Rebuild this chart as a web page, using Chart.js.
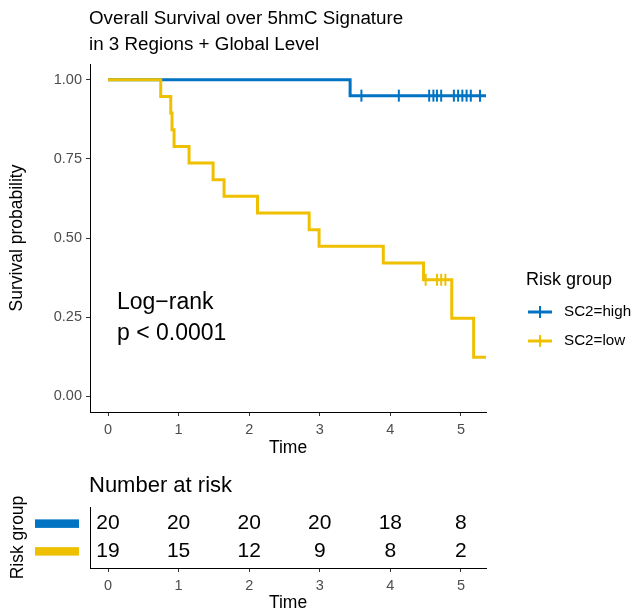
<!DOCTYPE html>
<html><head><meta charset="utf-8">
<script src="https://cdn.jsdelivr.net/npm/chart.js@4"></script>
<style>
html,body{margin:0;padding:0;background:#fff;}
#wrap{position:relative;width:632px;height:612px;background:#fff;}
.box{position:absolute;left:0;width:632px;}
</style></head><body>
<div id="wrap">
<div class="box" style="top:0;height:470px"><canvas id="c1" width="632" height="470"></canvas></div>
<div class="box" style="top:470px;height:142px"><canvas id="c2" width="632" height="142"></canvas></div>
</div>
<script>
// ---------------- data ----------------
const titleLines = ["Overall Survival over 5hmC Signature", "in 3 Regions + Global Level"];
const groups = ["SC2=high", "SC2=low"];
const colors = ["#0073C2", "#EFC000"];
const legendTitle = "Risk group";

const highTimes = [0, 3.43, 5.36];
const highSurv  = [1, 0.95, 0.95];
const highCensorTimes = [3.59, 4.12, 4.55, 4.61, 4.66, 4.72, 4.90, 4.96, 5.02, 5.08, 5.14, 5.27];
const highCensorSurv  = [0.95, 0.95, 0.95, 0.95, 0.95, 0.95, 0.95, 0.95, 0.95, 0.95, 0.95, 0.95];

const lowTimes = [0, 0.747, 0.889, 0.907, 0.936, 1.148, 1.489, 1.644, 2.118, 2.85, 2.99, 3.90, 4.47, 4.87, 5.18, 5.36];
const lowSurv  = [1, 0.947, 0.895, 0.842, 0.789, 0.737, 0.684, 0.632, 0.579, 0.526, 0.474, 0.421, 0.368, 0.246, 0.123, 0.123];
const lowCensorTimes = [4.50, 4.66, 4.72, 4.78];
const lowCensorSurv  = [0.368, 0.368, 0.368, 0.368];

const xTicks = [0, 1, 2, 3, 4, 5];
const yTicks = [0, 0.25, 0.5, 0.75, 1];
const yTickLabels = ["0.00", "0.25", "0.50", "0.75", "1.00"];
const pvalueText = ["Log\u2212rank", "p < 0.0001"];

const riskTitle = "Number at risk";
const riskTimes = [0, 1, 2, 3, 4, 5];
const riskHigh = [20, 20, 20, 20, 18, 8];
const riskLow  = [19, 15, 12, 9, 8, 2];

// ---------------- setup ----------------
const FONT = "'Liberation Sans', Arial, Helvetica, sans-serif";
const X_MIN = -0.255, X_MAX = 5.355;
const TICK_GRAY = '#4D4D4D';

function pts(xs, ys) { return xs.map((x, i) => ({ x: x, y: ys[i] })); }

const mainText = {
  id: 'mainText',
  afterDraw(chart) {
    const ctx = chart.ctx, ca = chart.chartArea;
    ctx.save();
    ctx.fillStyle = '#000';
    ctx.textBaseline = 'middle';
    ctx.textAlign = 'left';
    ctx.font = `18.8px ${FONT}`;
    ctx.fillText(titleLines[0], 89, 19);
    ctx.fillText(titleLines[1], 89, 45);

    ctx.font = `17.5px ${FONT}`;
    ctx.textAlign = 'center';
    ctx.fillText('Time', (ca.left + ca.right) / 2, 448);
    ctx.save();
    ctx.translate(17, (ca.top + ca.bottom) / 2);
    ctx.rotate(-Math.PI / 2);
    ctx.fillText('Survival probability', 0, 0);
    ctx.restore();

    ctx.textAlign = 'left';
    ctx.font = `23px ${FONT}`;
    ctx.fillText(pvalueText[0], 117, 303);
    ctx.fillText(pvalueText[1], 117, 334);

    // legend
    ctx.font = `18px ${FONT}`;
    ctx.fillText(legendTitle, 526, 280);
    const ly = [312, 341];
    ctx.font = `15.2px ${FONT}`;
    for (let i = 0; i < groups.length; i++) {
      ctx.strokeStyle = colors[i];
      ctx.lineWidth = 3;
      ctx.beginPath(); ctx.moveTo(528, ly[i]); ctx.lineTo(552, ly[i]); ctx.stroke();
      ctx.lineWidth = 2;
      ctx.beginPath(); ctx.moveTo(540, ly[i] - 6); ctx.lineTo(540, ly[i] + 6); ctx.stroke();
      ctx.fillStyle = '#000';
      ctx.fillText(groups[i], 564, ly[i]);
    }
    ctx.restore();
  }
};

new Chart(document.getElementById('c1'), {
  type: 'line',
  data: {
    datasets: [
      { type: 'scatter', data: pts(highCensorTimes, highCensorSurv), showLine: false,
        pointStyle: 'line', pointRotation: 90, pointRadius: 6, pointBorderWidth: 2,
        pointBorderColor: colors[0], pointBackgroundColor: colors[0], order: 0 },
      { type: 'scatter', data: pts(lowCensorTimes, lowCensorSurv), showLine: false,
        pointStyle: 'line', pointRotation: 90, pointRadius: 6, pointBorderWidth: 2,
        pointBorderColor: colors[1], pointBackgroundColor: colors[1], order: 1 },
      { label: groups[1], data: pts(lowTimes, lowSurv), borderColor: colors[1], borderWidth: 3,
        stepped: 'before', pointRadius: 0, fill: false, order: 2, clip: 0 },
      { label: groups[0], data: pts(highTimes, highSurv), borderColor: colors[0], borderWidth: 3,
        stepped: 'before', pointRadius: 0, fill: false, order: 3, clip: 0 }
    ]
  },
  options: {
    responsive: false, animation: false, devicePixelRatio: 1,
    layout: { padding: { left: 0, top: 64, right: 146, bottom: 8 } },
    plugins: { legend: { display: false }, tooltip: { enabled: false }, title: { display: false } },
    scales: {
      x: {
        type: 'linear', min: X_MIN, max: X_MAX,
        afterBuildTicks: s => { s.ticks = xTicks.map(v => ({ value: v })); },
        afterFit: s => { s.height = 50; },
        grid: { drawOnChartArea: false, drawTicks: true, tickLength: 4, color: '#333', lineWidth: 1 },
        border: { display: true, color: '#000', width: 1 },
        ticks: { font: { family: FONT, size: 14.5 }, color: TICK_GRAY, padding: 5, maxRotation: 0, autoSkip: false }
      },
      y: {
        type: 'linear', min: -0.05, max: 1.05,
        afterBuildTicks: s => { s.ticks = yTicks.map(v => ({ value: v })); },
        afterFit: s => { s.width = 90; },
        grid: { drawOnChartArea: false, drawTicks: true, tickLength: 4, color: '#333', lineWidth: 1 },
        border: { display: true, color: '#000', width: 1 },
        ticks: { font: { family: FONT, size: 14.5 }, color: TICK_GRAY, padding: 4,
          callback: v => yTickLabels[yTicks.indexOf(v)] }
      }
    }
  },
  plugins: [mainText]
});

const riskText = {
  id: 'riskText',
  afterDraw(chart) {
    const ctx = chart.ctx, ca = chart.chartArea;
    const xs = chart.scales.x, ys = chart.scales.y;
    ctx.save();
    ctx.fillStyle = '#000';
    ctx.textBaseline = 'middle';
    ctx.textAlign = 'left';
    ctx.font = `22px ${FONT}`;
    ctx.fillText(riskTitle, 89, 16);

    const rows = [riskHigh, riskLow];
    const rowVal = [2, 1];
    ctx.font = `21px ${FONT}`;
    ctx.textAlign = 'center';
    for (let r = 0; r < rows.length; r++) {
      const y = ys.getPixelForValue(rowVal[r]);
      ctx.fillStyle = colors[r];
      ctx.fillRect(35, y - 4.25, 44, 8.5);
      ctx.fillStyle = '#000';
      for (let i = 0; i < riskTimes.length; i++) {
        ctx.fillText(String(rows[r][i]), xs.getPixelForValue(riskTimes[i]), y);
      }
    }

    ctx.font = `17.5px ${FONT}`;
    ctx.fillText('Time', (ca.left + ca.right) / 2, 133);
    ctx.save();
    ctx.translate(18, (ca.top + ca.bottom) / 2);
    ctx.rotate(-Math.PI / 2);
    ctx.fillText(legendTitle, 0, 0);
    ctx.restore();
    ctx.restore();
  }
};

new Chart(document.getElementById('c2'), {
  type: 'scatter',
  data: { datasets: [] },
  options: {
    responsive: false, animation: false, devicePixelRatio: 1,
    layout: { padding: { left: 0, top: 37, right: 146, bottom: 0 } },
    plugins: { legend: { display: false }, tooltip: { enabled: false } },
    scales: {
      x: {
        type: 'linear', min: X_MIN, max: X_MAX,
        afterBuildTicks: s => { s.ticks = riskTimes.map(v => ({ value: v })); },
        afterFit: s => { s.height = 44; },
        grid: { drawOnChartArea: false, drawTicks: true, tickLength: 4, color: '#333', lineWidth: 1 },
        border: { display: true, color: '#000', width: 1 },
        ticks: { font: { family: FONT, size: 14.5 }, color: TICK_GRAY, padding: 5, maxRotation: 0, autoSkip: false }
      },
      y: {
        type: 'linear', min: 0.4, max: 2.6,
        afterFit: s => { s.width = 90; },
        grid: { display: false },
        border: { display: true, color: '#000', width: 1 },
        ticks: { display: false }
      }
    }
  },
  plugins: [riskText]
});
</script>
</body></html>
